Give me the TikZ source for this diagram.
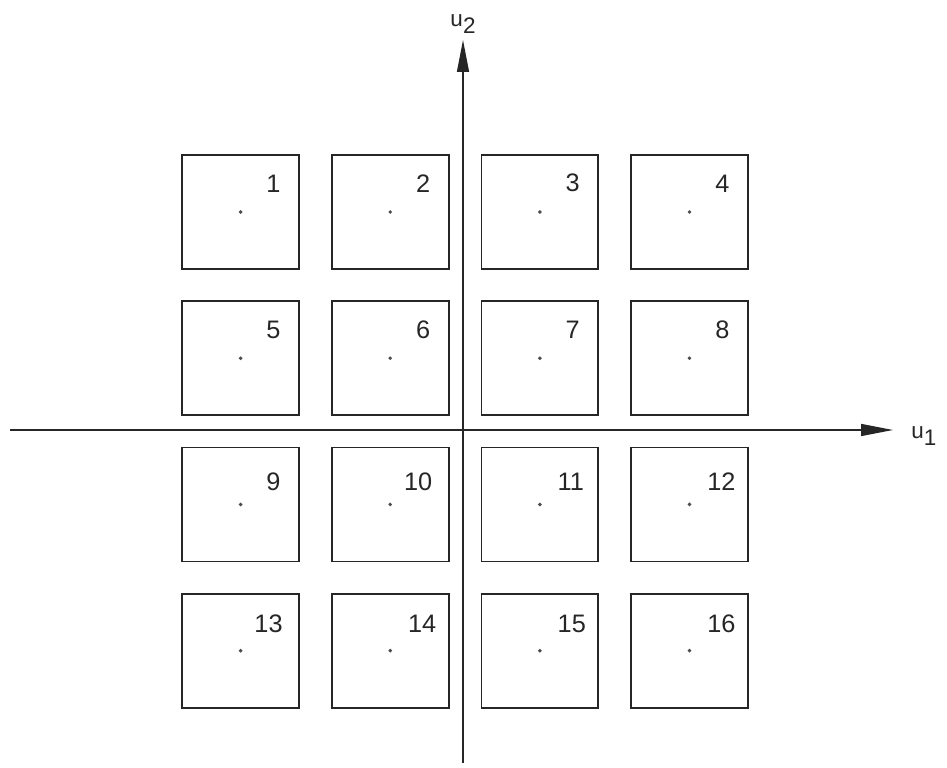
\documentclass[tikz,border=0pt]{standalone}
\usepackage{fontspec}
\setmainfont{Liberation Sans}
\usetikzlibrary{arrows.meta, positioning}

\begin{document}
\begin{tikzpicture}[
				node distance=0.76cm and 0.775cm,
				cell/.style={rectangle, draw=black!85, line width=1.3pt, minimum width=2.92cm, minimum height=2.85cm, inner sep=0pt},
				cdot/.style={circle, fill=black!70, inner sep=0pt, minimum size=2.8pt},
				num/.style={inner sep=0pt, text=black!85, font=\fontsize{18}{20}\selectfont},
				axisline/.style={-{Triangle[length=8mm, width=3mm]}, line width=1pt, draw=black!85},
				axlabel/.style={inner sep=0pt, text=black!85, font=\fontsize{16}{18}\selectfont}
				]
				
				\useasboundingbox (-11.575,-8.45) rectangle (12.1,10.75);
				
				\node[cell] (s1) at (-5.56,5.45) {};
				\node[cell, right=of s1] (s2) {};
				\node[cell, right=of s2] (s3) {};
				\node[cell, right=of s3] (s4) {};
				\node[cell, below=of s1] (s5) {};
				\node[cell, right=of s5] (s6) {};
				\node[cell, right=of s6] (s7) {};
				\node[cell, right=of s7] (s8) {};
				\node[cell, below=of s5] (s9) {};
				\node[cell, right=of s9] (s10) {};
				\node[cell, right=of s10] (s11) {};
				\node[cell, right=of s11] (s12) {};
				\node[cell, below=of s9] (s13) {};
				\node[cell, right=of s13] (s14) {};
				\node[cell, right=of s14] (s15) {};
				\node[cell, right=of s15] (s16) {};
				
				\node[cdot] (d1) at (s1.center) {};
				\node[cdot] (d2) at (s2.center) {};
				\node[cdot] (d3) at (s3.center) {};
				\node[cdot] (d4) at (s4.center) {};
				\node[cdot] (d5) at (s5.center) {};
				\node[cdot] (d6) at (s6.center) {};
				\node[cdot] (d7) at (s7.center) {};
				\node[cdot] (d8) at (s8.center) {};
				\node[cdot] (d9) at (s9.center) {};
				\node[cdot] (d10) at (s10.center) {};
				\node[cdot] (d11) at (s11.center) {};
				\node[cdot] (d12) at (s12.center) {};
				\node[cdot] (d13) at (s13.center) {};
				\node[cdot] (d14) at (s14.center) {};
				\node[cdot] (d15) at (s15.center) {};
				\node[cdot] (d16) at (s16.center) {};
				
				\node[num, above right=0.45cm and 0.6cm of d1] (n1) {1};
				\node[num, above right=0.45cm and 0.6cm of d2] (n2) {2};
				\node[num, above right=0.45cm and 0.6cm of d3] (n3) {3};
				\node[num, above right=0.45cm and 0.6cm of d4] (n4) {4};
				\node[num, above right=0.45cm and 0.6cm of d5] (n5) {5};
				\node[num, above right=0.45cm and 0.6cm of d6] (n6) {6};
				\node[num, above right=0.45cm and 0.6cm of d7] (n7) {7};
				\node[num, above right=0.45cm and 0.6cm of d8] (n8) {8};
				\node[num, above right=0.3cm and 0.6cm of d9] (n9) {9};
				\node[num, above right=0.3cm and 0.3cm of d10] (n10) {10};
				\node[num, above right=0.3cm and 0.4cm of d11] (n11) {11};
				\node[num, above right=0.3cm and 0.4cm of d12] (n12) {12};
				\node[num, above right=0.4cm and 0.3cm of d13] (n13) {13};
				\node[num, above right=0.4cm and 0.4cm of d14] (n14) {14};
				\node[num, above right=0.4cm and 0.4cm of d15] (n15) {15};
				\node[num, above right=0.4cm and 0.4cm of d16] (n16) {16};
				
				\coordinate (xl) at (-11.325,0);
				\coordinate (xr) at (10.75,0);
				\coordinate (yb) at (0,-8.325);
				\coordinate (yt) at (0,9.75);
				
				\draw[axisline] (xl) -- (xr);
				\draw[axisline] (yb) -- (yt);
				
				\node[axlabel, right=0.45cm of xr, yshift=-0.15cm] (u1) {u\raisebox{-0.6ex}{1}};
				\node[axlabel, above=0.15cm of yt] (u2) {u\raisebox{-0.6ex}{2}};
				
			\end{tikzpicture}
\end{document}
